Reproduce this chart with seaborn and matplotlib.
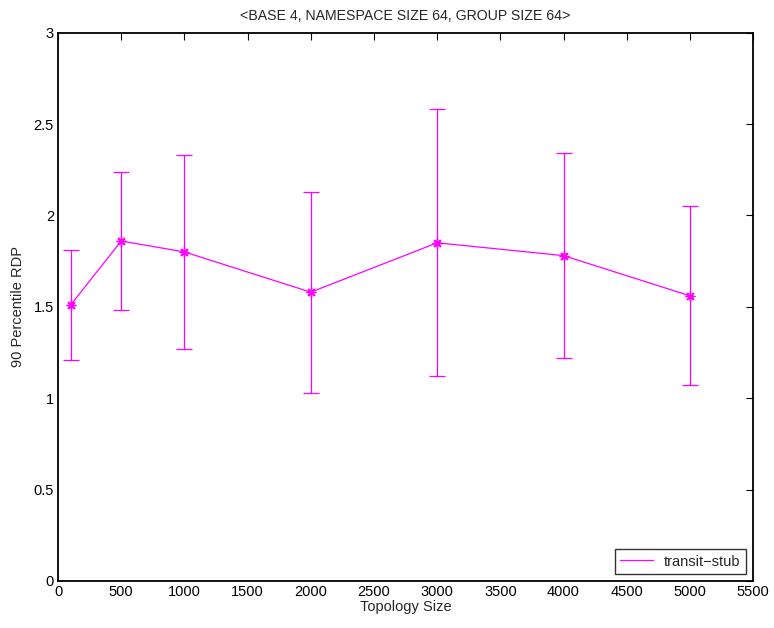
import pandas as pd
import seaborn as sns
import matplotlib
matplotlib.use('Agg')
import matplotlib.pyplot as plt
from matplotlib.lines import Line2D

# 데이터
topology_size = [100, 500, 1000, 2000, 3000, 4000, 5000]
rdp_90 = [1.51, 1.86, 1.80, 1.58, 1.85, 1.78, 1.56]
rdp_low = [1.21, 1.48, 1.27, 1.03, 1.12, 1.22, 1.07]
rdp_high = [1.81, 2.24, 2.33, 2.13, 2.58, 2.34, 2.05]

# long-form: median = 값, 최소/최대 = 에러바
rows = []
for x, m, lo, hi in zip(topology_size, rdp_90, rdp_low, rdp_high):
    for v in (lo, m, hi):
        rows.append({'Topology Size': x, 'RDP': v})
df = pd.DataFrame(rows)

sns.set_style('white')
plt.rcParams['font.family'] = ['Liberation Sans', 'DejaVu Sans']
plt.rcParams['font.size'] = 10.5

color = '#ff00ff'
fig = plt.figure(figsize=(7.74, 6.28), dpi=100)
ax = fig.add_axes([0.075, 0.075, 0.898, 0.873])

sns.lineplot(data=df, x='Topology Size', y='RDP', estimator='median',
             errorbar=('pi', 100), err_style='bars', color=color,
             marker=(8, 2, 0), markersize=7, markeredgecolor=color,
             markeredgewidth=1.0,
             linewidth=0.9, err_kws={'capsize': 5.5, 'elinewidth': 0.9, 'capthick': 0.9},
             ax=ax)

ax.set_xlim(0, 5500)
ax.set_ylim(0, 3)
ax.set_xticks(range(0, 5501, 500))
ax.set_yticks([0, 0.5, 1, 1.5, 2, 2.5, 3])
ax.set_yticklabels(['0', '0.5', '1', '1.5', '2', '2.5', '3'])
ax.tick_params(direction='in', top=True, right=True, length=5, width=0.8,
               labelsize=10.5, colors='black', pad=3)
for s in ax.spines.values():
    s.set_color('black')
    s.set_linewidth(1.3)

ax.set_xlabel('Topology Size', fontsize=10.5, labelpad=1)
ax.set_ylabel('90 Percentile RDP', fontsize=10.5, labelpad=6)
ax.set_title('<BASE 4, NAMESPACE SIZE 64, GROUP SIZE 64>', fontsize=10.2, pad=9)

handle = Line2D([], [], color=color, linewidth=0.9)
leg = ax.legend([handle], ['transit\u2212stub'], loc='lower right', fontsize=10.5,
                frameon=True, fancybox=False, edgecolor='black',
                handlelength=2.2, borderaxespad=0.5, borderpad=0.35)
leg.get_frame().set_linewidth(1.0)

fig.savefig('out.png', dpi=100)
